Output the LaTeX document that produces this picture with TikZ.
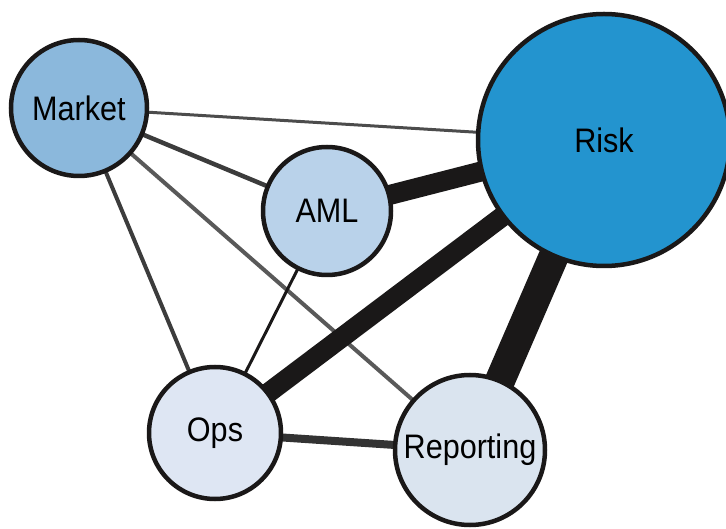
\documentclass[tikz,border=0pt]{standalone}
\usepackage{fontspec}
\setmainfont[FakeStretch=0.9]{Liberation Sans}
\usetikzlibrary{backgrounds}
\definecolor{ringc}{HTML}{1A1818}
\definecolor{marketc}{HTML}{8BB8DC}
\definecolor{amlc}{HTML}{B9D2EA}
\definecolor{riskc}{HTML}{2394CF}
\definecolor{opsc}{HTML}{DEE6F3}
\definecolor{repc}{HTML}{DAE4EF}
\definecolor{linkc}{HTML}{1A1818}
\definecolor{greyc}{HTML}{3C3C3C}
\begin{document}
\begin{tikzpicture}[x=1pt,y=-1pt,
  topic/.style={circle, draw=ringc, line width=4.5pt, inner sep=0pt,
    font=\fontsize{34}{34}\selectfont, text=black},
  weak/.style={draw=greyc, line width=#1},
  strong/.style={draw=linkc, line width=#1}]
\useasboundingbox (0,0) rectangle (726,529);
\node[topic, fill=marketc, minimum size=136pt] (market) at (79,108) {Market};
\node[topic, fill=amlc, minimum size=128pt] (aml) at (327,211) {AML};
\node[topic, fill=riskc, minimum size=252pt] (risk) at (604,140) {Risk};
\node[topic, fill=opsc, minimum size=132pt] (ops) at (215,433) {Ops};
\node[topic, fill=repc, minimum size=150pt] (rep) at (470,450) {Reporting};
\begin{pgfonlayer}{background}
\draw[weak=3pt, draw=black!70] (market.center) -- (risk.center);
\draw[weak=4.5pt] (market.center) -- (aml.center);
\draw[weak=4pt] (market.center) -- (ops.center);
\draw[weak=4pt, draw=black!65] (market.center) -- (rep.center);
\draw[strong=3pt] (aml.center) -- (ops.center);
\draw[weak=8pt, draw=black!80] (ops.center) -- (rep.center);
\draw[strong=20pt] (ops.center) -- (risk.center);
\draw[strong=20pt] (aml.center) -- (risk.center);
\draw[strong=30pt] (rep.center) -- (risk.center);
\end{pgfonlayer}
\end{tikzpicture}
\end{document}
